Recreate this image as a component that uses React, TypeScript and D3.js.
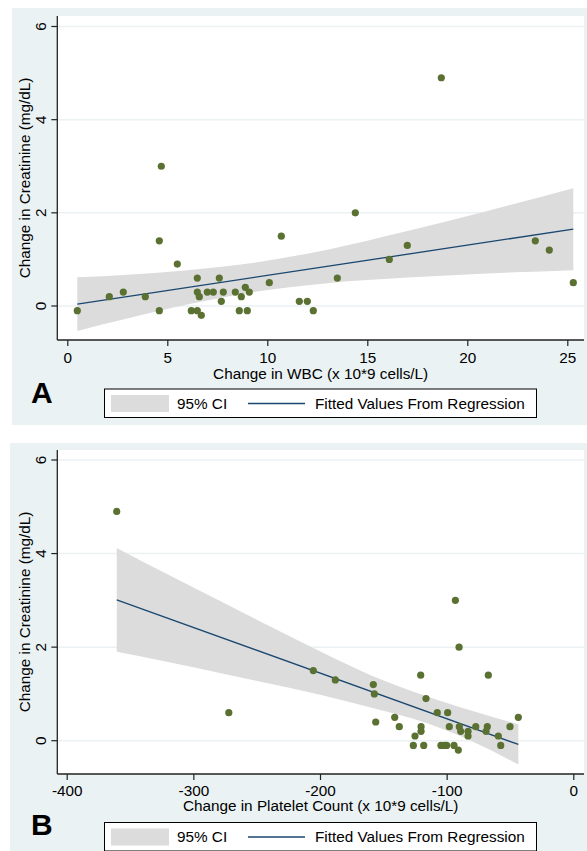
import React, { useEffect, useRef } from 'react';
import * as d3 from 'd3';

// panel A: change in WBC vs change in creatinine
const wbcChange = [0.5, 2.1, 2.8, 3.9, 4.6, 4.6, 4.7, 5.5, 6.2, 6.5, 6.5, 6.6, 6.5, 6.7, 7.0, 7.3, 7.6, 7.7, 7.8, 8.4,
  8.6, 8.7, 8.9, 9.0, 9.1, 10.1, 10.7, 11.6, 12.0, 12.3, 13.5, 14.4, 16.1, 17.0, 18.7, 23.4, 24.1, 25.3];
const creatA = [-0.1, 0.2, 0.3, 0.2, 1.4, -0.1, 3.0, 0.9, -0.1, 0.6, 0.3, 0.2, -0.1, -0.2, 0.3, 0.3, 0.6, 0.1, 0.3, 0.3,
  -0.1, 0.2, 0.4, -0.1, 0.3, 0.5, 1.5, 0.1, 0.1, -0.1, 0.6, 2.0, 1.0, 1.3, 4.9, 1.4, 1.2, 0.5];
const fitXA = [0.5, 25.3];
const fitYA = [0.04, 1.65];
const ciXA = [0.5, 3, 6, 9.66, 13, 17, 21, 25.3];
const ciLowA = [-0.535, -0.27, 0.03, 0.32, 0.49, 0.61, 0.70, 0.77];
const ciHighA = [0.615, 0.67, 0.77, 0.95, 1.21, 1.61, 2.04, 2.53];
const xTicksA = [0, 5, 10, 15, 20, 25];

// panel B: change in platelet count vs change in creatinine
const plateletChange = [-360.5, -272, -205.3, -187.9, -157.9, -157.1, -156, -141, -137.4, -125, -126.3, -120.5, -120.2,
  -120.2, -118.1, -116.3, -107.4, -99.2, -97.9, -104.5, -101.8, -100, -94.2, -90.8, -93.1, -90.2, -90, -88.9, -83.1,
  -83.1, -77, -68.9, -67.9, -67.1, -59.2, -57.3, -50, -43.4];
const creatB = [4.9, 0.6, 1.5, 1.3, 1.2, 1.0, 0.4, 0.5, 0.3, 0.1, -0.1, 1.4, 0.3, 0.2, -0.1, 0.9, 0.6, 0.6, 0.3, -0.1,
  -0.1, -0.1, -0.1, -0.2, 3.0, 2.0, 0.3, 0.2, 0.2, 0.1, 0.3, 0.2, 0.3, 1.4, 0.1, -0.1, 0.3, 0.5];
const fitXB = [-360.5, -43.4];
const fitYB = [3.01, -0.08];
const ciXB = [-360.5, -320, -280, -240, -200, -160, -117, -80, -43.4];
const ciLowB = [1.90, 1.68, 1.45, 1.22, 0.98, 0.71, 0.39, -0.01, -0.51];
const ciHighB = [4.12, 3.55, 3.00, 2.45, 1.91, 1.40, 0.96, 0.64, 0.35];
const xTicksB = [-400, -300, -200, -100, 0];

const yTicks = [0, 2, 4, 6];
const yTitle = 'Change in Creatinine (mg/dL)';
const legendLabels = ['95% CI', 'Fitted Values From Regression'];

const font = '"Liberation Sans", Arial, Helvetica, sans-serif';
const fs = 15.3;
const bgColor = '#eaf2f3';
const dotColor = '#5b7131';
const lineColor = '#1a476f';
const bandColor = '#dcdcdc';

function drawPanel(svg, p) {
  var g = svg.append('g');

  // outer graph region
  g.append('rect')
    .attr('x', p.bgLeft).attr('y', p.bgTop)
    .attr('width', 587 - p.bgLeft).attr('height', p.bgBottom - p.bgTop)
    .attr('fill', bgColor);

  // plot region
  g.append('rect')
    .attr('x', p.left).attr('y', p.top)
    .attr('width', p.right - p.left).attr('height', p.bottom - p.top)
    .attr('fill', '#ffffff');

  var x = d3.scaleLinear().domain(p.xDomain).range(p.xRange);
  var y = d3.scaleLinear().domain([0, 6]).range(p.yRange);

  // grid
  g.selectAll('.grid')
    .data(yTicks)
    .enter()
    .append('line')
    .attr('x1', p.left).attr('x2', p.right)
    .attr('y1', d => y(d)).attr('y2', d => y(d))
    .attr('stroke', bgColor)
    .attr('stroke-width', 1.5);

  // CI band
  var band = d3.area()
    .x(d => x(d[0]))
    .y0(d => y(d[1]))
    .y1(d => y(d[2]))
    .curve(d3.curveMonotoneX);
  g.append('path')
    .datum(p.ciX.map((v, i) => [v, p.ciLow[i], p.ciHigh[i]]))
    .attr('d', band)
    .attr('fill', bandColor);

  // fitted line
  var line = d3.line().x(d => x(d[0])).y(d => y(d[1]));
  g.append('path')
    .datum(p.fitX.map((v, i) => [v, p.fitY[i]]))
    .attr('d', line)
    .attr('fill', 'none')
    .attr('stroke', lineColor)
    .attr('stroke-width', 1.3);

  // points
  g.selectAll('.dot')
    .data(p.xs.map((v, i) => [v, p.ys[i]]))
    .enter()
    .append('circle')
    .attr('cx', d => x(d[0]))
    .attr('cy', d => y(d[1]))
    .attr('r', 3.6)
    .attr('fill', dotColor);

  // x axis
  var xAxis = d3.axisBottom(x).tickValues(p.xTicks).tickSize(6).tickPadding(p.tickPad).tickFormat(d3.format('d'));
  var xg = g.append('g')
    .attr('transform', 'translate(0,' + p.bottom + ')')
    .call(xAxis);
  xg.select('.domain').remove();
  xg.selectAll('line').attr('stroke', '#222').attr('stroke-width', 1.2);
  xg.selectAll('text').attr('font-family', font).attr('font-size', fs).attr('fill', '#000')
    .text(d => d < 0 ? '-' + Math.abs(d) : d);

  // y axis
  var yg = g.append('g').attr('transform', 'translate(' + p.left + ',0)');
  yg.selectAll('.tick')
    .data(yTicks)
    .enter()
    .append('line')
    .attr('x1', -6).attr('x2', 0)
    .attr('y1', d => y(d)).attr('y2', d => y(d))
    .attr('stroke', '#222')
    .attr('stroke-width', 1.2);
  yg.selectAll('.lbl')
    .data(yTicks)
    .enter()
    .append('text')
    .attr('transform', d => 'translate(-11.8,' + y(d) + ') rotate(-90)')
    .attr('text-anchor', 'middle')
    .attr('font-family', font)
    .attr('font-size', fs)
    .text(d => d);

  g.append('line')
    .attr('x1', p.left).attr('x2', p.right)
    .attr('y1', p.bottom).attr('y2', p.bottom)
    .attr('stroke', '#222').attr('stroke-width', 1.3);
  g.append('line')
    .attr('x1', p.left).attr('x2', p.left)
    .attr('y1', p.top).attr('y2', p.bottom)
    .attr('stroke', '#222').attr('stroke-width', 1.3);

  // titles
  g.append('text')
    .attr('transform', 'translate(29.5,' + (p.top + p.bottom) / 2 + ') rotate(-90)')
    .attr('text-anchor', 'middle')
    .attr('font-family', font)
    .attr('font-size', fs)
    .text(yTitle);
  g.append('text')
    .attr('x', (p.left + p.right) / 2)
    .attr('y', p.xTitleY)
    .attr('text-anchor', 'middle')
    .attr('font-family', font)
    .attr('font-size', fs)
    .text(p.xTitle);

  g.append('text')
    .attr('x', 31)
    .attr('y', p.letterY)
    .attr('font-family', font)
    .attr('font-size', 30)
    .attr('font-weight', 'bold')
    .text(p.letter);

  // legend
  var ly = p.legendTop;
  g.append('rect')
    .attr('x', 104.5).attr('y', ly)
    .attr('width', 432).attr('height', 28.5)
    .attr('fill', '#fff')
    .attr('stroke', '#000')
    .attr('stroke-width', 1);
  g.append('rect')
    .attr('x', 111).attr('y', ly + 6)
    .attr('width', 58).attr('height', 17)
    .attr('fill', bandColor);
  g.append('text')
    .attr('x', 177).attr('y', ly + 19.8)
    .attr('font-family', font).attr('font-size', fs)
    .text(legendLabels[0]);
  g.append('line')
    .attr('x1', 248).attr('x2', 305)
    .attr('y1', ly + 14.5).attr('y2', ly + 14.5)
    .attr('stroke', lineColor).attr('stroke-width', 1.3);
  g.append('text')
    .attr('x', 315).attr('y', ly + 19.8)
    .attr('font-family', font).attr('font-size', fs)
    .text(legendLabels[1]);
}

export default function App() {
  const ref = useRef(null);

  useEffect(() => {
    var svg = d3.select(ref.current);
    svg.selectAll('*').remove();

    drawPanel(svg, {
      bgLeft: 12, bgTop: 8, bgBottom: 425,
      left: 57.3, right: 584, top: 16, bottom: 340,
      xDomain: [0, 25], xRange: [67.3, 567.3], yRange: [306, 26.5],
      xs: wbcChange, ys: creatA,
      fitX: fitXA, fitY: fitYA,
      ciX: ciXA, ciLow: ciLowA, ciHigh: ciHighA,
      xTicks: xTicksA, tickPad: 6.5,
      xTitle: 'Change in WBC (x 10*9 cells/L)', xTitleY: 378.8,
      letter: 'A', letterY: 403,
      legendTop: 389
    });

    drawPanel(svg, {
      bgLeft: 10, bgTop: 443, bgBottom: 851,
      left: 57.3, right: 584, top: 450, bottom: 774,
      xDomain: [-400, 0], xRange: [66.7, 573.3], yRange: [740.7, 460],
      xs: plateletChange, ys: creatB,
      fitX: fitXB, fitY: fitYB,
      ciX: ciXB, ciLow: ciLowB, ciHigh: ciHighB,
      xTicks: xTicksB, tickPad: 5.5,
      xTitle: 'Change in Platelet Count (x 10*9 cells/L)', xTitleY: 810.8,
      letter: 'B', letterY: 835,
      legendTop: 822.5
    });
  }, []);

  return (
    <svg ref={ref} width={587} height={851}
      style={{ position: 'absolute', left: 0, top: 0, background: '#fff' }} />
  );
}
